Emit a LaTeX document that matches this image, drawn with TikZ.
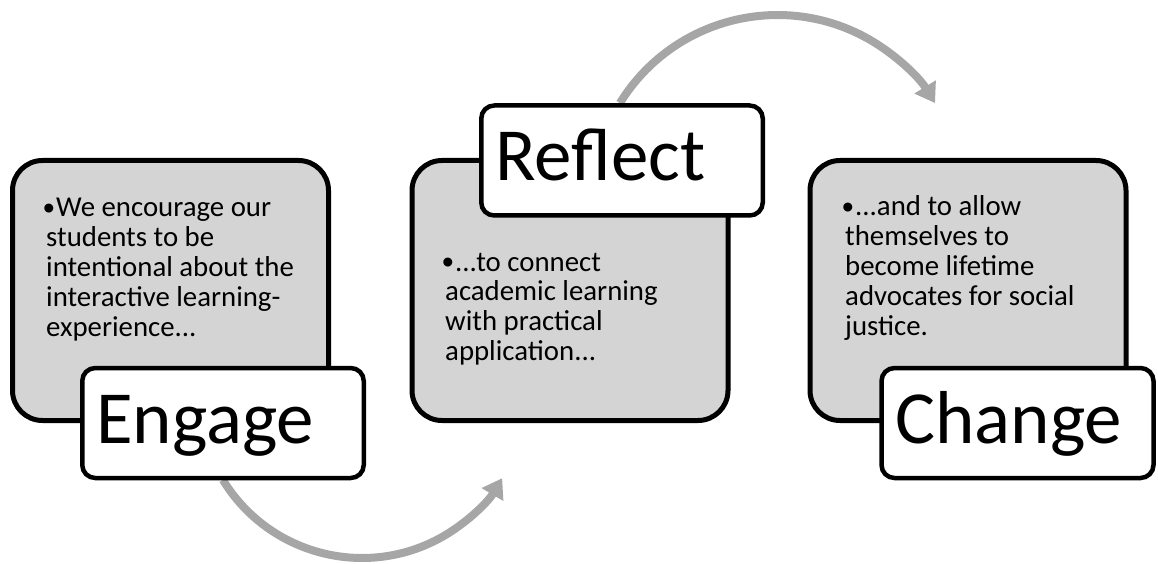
\documentclass[tikz,border=0pt]{standalone}
\usepackage{fontspec}
\setmainfont{Carlito}
\newfontfamily\bulfont{Liberation Sans}
\usetikzlibrary{arrows.meta}
\definecolor{boxgray}{HTML}{D4D4D4}
\definecolor{arcgray}{HTML}{A6A6A6}
\newcommand{\bulmark}{\raisebox{-2.5pt}{\bulfont\fontsize{33}{30}\selectfont\char"2022}}
\newcommand{\bultext}[1]{\parbox[t]{300pt}{\fontsize{28.8}{29.8}\selectfont\raggedright\hangindent=10pt\hangafter=1\noindent\makebox[10pt][l]{\hspace*{-3pt}\bulmark}#1}}
\begin{document}
\begin{tikzpicture}[x=1pt,y=1pt,
  panel/.style={draw=black, line width=5pt, fill=boxgray, rounded corners=30pt,
    minimum width=316pt, minimum height=260pt, inner sep=0pt},
  tag/.style={draw=black, line width=4.5pt, fill=white, rounded corners=13pt,
    minimum height=110pt, inner xsep=14pt, inner ysep=0pt, align=left,
    text height=52pt, text depth=12pt, font=\fontsize{75}{88}\selectfont},
  bullets/.style={inner sep=0pt, anchor=base west},
  flow/.style={draw=arcgray, line width=8pt, -{Triangle[width=24pt,length=19pt]}}]
\useasboundingbox (0,0) rectangle (1158,563);

% curved arrows
\coordinate (arcA) at (222.9,83.1);
\coordinate (arcB) at (619.9,459.9);
\draw[flow] (arcA) arc[start angle=211.4, end angle=329.3, radius=163];
\draw[flow] (arcB) arc[start angle=148.4, end angle=31.6, radius=185];

% grey panels
\node[panel] (engbox) at (170.5,272.5) {};
\node[panel] (refbox) at (570,272.5) {};
\node[panel] (chgbox) at (968,272.5) {};

% bullet texts
\node[bullets] (engtxt) at (46,346) {\bultext{We encourage our\\students to be\\intentional about the\\interactive learning-\\experience...}};
\node[bullets] (reftxt) at (445,292) {\bultext{...to connect\\academic learning\\with practical\\application...}};
\node[bullets] (chgtxt) at (845,347) {\bultext{...and to allow\\themselves to\\become lifetime\\advocates for social\\justice.}};

% title tags
\node[tag, text width=253.5pt] (engtag) at (223,140) {Engage};
\node[tag, text width=253.5pt] (reftag) at (622,402.5) {Reflect};
\node[tag, text width=244pt] (chgtag) at (1017.5,140) {Change};
\end{tikzpicture}
\end{document}
